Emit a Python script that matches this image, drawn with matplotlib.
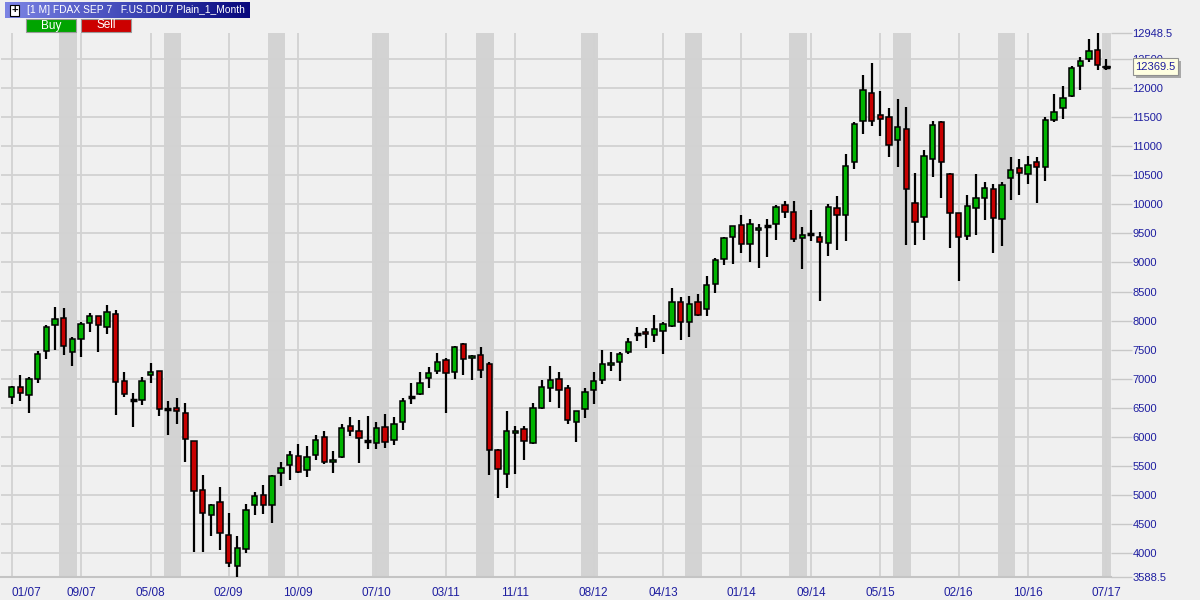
import numpy as np
import matplotlib
matplotlib.use("Agg")
import matplotlib.pyplot as plt
import matplotlib.transforms as mtransforms
from matplotlib.patches import Rectangle
from matplotlib.colors import LinearSegmentedColormap

plt.rcParams['font.family'] = ['Liberation Sans', 'DejaVu Sans']

# monthly OHLC, Jan 2007 .. Jul 2017
opens = [6690, 6851, 6713, 6989, 7471, 7920, 8040, 7454, 7690, 7954, 8075, 7885,
         8109, 6954, 6627, 6627, 7057, 7126, 6483, 6489, 6402, 5931, 5086, 4655,
         4879, 4310, 3770, 4069, 4828, 5000, 4828, 5379, 5517, 5672, 5431, 5690,
         6000, 5569, 5655, 6190, 6104, 5925, 5897, 6172, 5948, 6259, 6678, 6741,
         7017, 7138, 7328, 7121, 7603, 7362, 7414, 7260, 5782, 5368, 6063, 6127,
         5902, 6489, 6833, 6989, 6833, 6264, 6471, 6799, 6971, 7230, 7282, 7454,
         7770, 7799, 7747, 7816, 7902, 8316, 7971, 8328, 8207, 8638, 9052, 9431,
         9638, 9310, 9552, 9632, 9655, 9983, 9862, 9414, 9483, 9431, 9328, 9931,
         9810, 10724, 11431, 11914, 11534, 11500, 11103, 11293, 10017, 9776, 10776, 11414,
         10517, 9845, 9448, 9931, 10103, 10259, 9741, 10448, 10621, 10517, 10724, 10638,
         11448, 11655, 11862, 12379, 12500, 12655, 12369.5]
highs = [6874, 7058, 7023, 7477, 7925, 8236, 8218, 7718, 7977, 8138, 8080, 8270,
         8184, 7115, 6753, 7029, 7264, 7130, 6615, 6667, 6575, 5935, 5351, 4851,
         5144, 4695, 4299, 4851, 5058, 5178, 5340, 5575, 5764, 5885, 5845, 6040,
         6092, 5764, 6213, 6345, 6282, 6362, 6264, 6385, 6345, 6672, 6920, 7109,
         7195, 7448, 7362, 7560, 7621, 7414, 7552, 7290, 5799, 6437, 6190, 6178,
         6575, 6977, 7218, 7115, 6885, 6445, 6833, 7115, 7494, 7460, 7454, 7695,
         7885, 7868, 8092, 7971, 8557, 8402, 8420, 8466, 8776, 9069, 9443, 9630,
         9816, 9747, 9655, 9741, 9983, 10052, 10052, 9603, 9897, 9517, 10000, 10144,
         10868, 11420, 12230, 12437, 11948, 11655, 11810, 11672, 10534, 10931, 11431, 11431,
         10534, 9850, 10155, 10517, 10379, 10351, 10379, 10816, 10776, 10828, 10810, 11500,
         11897, 12034, 12379, 12534, 12845, 12948.5, 12500]
lows = [6563, 6621, 6414, 6931, 7333, 7500, 7414, 7224, 7379, 7810, 7466, 7776,
        6379, 6690, 6172, 6552, 6931, 6362, 6035, 6224, 5569, 4012, 4012, 4287,
        4058, 3753, 3588.5, 3994, 4649, 4667, 4512, 5149, 5253, 5379, 5305, 5598,
        5529, 5379, 5632, 6023, 5546, 5787, 5787, 5805, 5856, 6115, 6563, 6718,
        6839, 7080, 6414, 6994, 7069, 6983, 7011, 5350, 4954, 5127, 5368, 5609,
        5885, 6471, 6604, 6500, 6213, 5914, 6316, 6558, 6902, 7127, 6954, 7420,
        7644, 7535, 7626, 7420, 7885, 7661, 7724, 8080, 8080, 8477, 8960, 8977,
        9167, 9012, 8908, 9098, 9391, 9759, 9356, 8891, 9374, 8339, 9115, 9218,
        9374, 10603, 11207, 11356, 11184, 10810, 10649, 9305, 9305, 9391, 10477, 10115,
        9253, 8690, 9391, 9466, 9736, 9155, 9287, 10080, 10167, 10345, 10017, 10397,
        11414, 11466, 11845, 11966, 12448, 12310, 12310]
closes = [6851, 6747, 6989, 7420, 7885, 8023, 7557, 7678, 7937, 8075, 7920, 8144,
          6937, 6730, 6627, 6954, 7109, 6471, 6483, 6437, 5971, 5069, 4690, 4828,
          4345, 3828, 4086, 4741, 4983, 4828, 5328, 5466, 5690, 5397, 5655, 5948,
          5569, 5603, 6155, 6104, 5983, 5925, 6155, 5914, 6224, 6621, 6678, 6931,
          7103, 7293, 7103, 7552, 7345, 7397, 7155, 5780, 5454, 6109, 6109, 5920,
          6489, 6851, 6971, 6799, 6282, 6437, 6764, 6954, 7247, 7264, 7420, 7626,
          7770, 7764, 7851, 7937, 8316, 7971, 8282, 8103, 8621, 9035, 9414, 9621,
          9310, 9655, 9586, 9632, 9948, 9862, 9397, 9466, 9483, 9345, 9948, 9810,
          10655, 11379, 11966, 11431, 11466, 11017, 11328, 10259, 9690, 10828, 11362, 10724,
          9845, 9431, 9966, 10103, 10276, 9759, 10328, 10586, 10534, 10672, 10638, 11448,
          11586, 11828, 12345, 12466, 12638, 12397, 12369.5]

month_labels = ['01/07', '09/07', '05/08', '02/09', '10/09', '07/10', '03/11', '11/11',
                '08/12', '04/13', '01/14', '09/14', '05/15', '02/16', '10/16', '07/17']
label_idx = [0, 8, 16, 25, 33, 42, 50, 58, 67, 75, 84, 92, 100, 109, 117, 126]
price_ticks = [3588.5, 4000, 4500, 5000, 5500, 6000, 6500, 7000, 7500, 8000, 8500,
               9000, 9500, 10000, 10500, 11000, 11500, 12000, 12500, 12948.5]
last_price = 12369.5

BG = '#F0F0F0'
GRID = '#D2D2D2'
TXT = '#1E1EA0'

fig = plt.figure(figsize=(12, 6), dpi=100)
fig.patch.set_facecolor(BG)
ax = fig.add_axes([1 / 1200, 23 / 600, 1110 / 1200, 544 / 600])
ax.set_facecolor(BG)

n = len(opens)
ax.set_xlim(-1.21, 126.54)
ax.set_ylim(3588.5, 12948.5)

# summer shading
for k in range(11):
    ax.axvspan(5.5 + 12 * k, 7.5 + 12 * k, color='#D3D3D3', zorder=0, lw=0)

for p in price_ticks[1:-1]:
    ax.axhline(p, color=GRID, lw=1.3, zorder=1)
for i in label_idx:
    ax.axvline(i, color=GRID, lw=1.3, zorder=1)

w = 0.62
for i in range(n):
    o, h, l, c = opens[i], highs[i], lows[i], closes[i]
    ax.vlines(i, l, h, color='black', lw=1.6, zorder=3)
    if o == c:
        ax.hlines(o, i - w / 2 - 0.1, i + w / 2 + 0.1, color='black', lw=2.5, zorder=4)
        continue
    col = '#00B400' if c > o else '#C80000'
    ax.add_patch(Rectangle((i - w / 2, min(o, c)), w, abs(c - o), facecolor=col,
                           edgecolor='black', lw=1.1, zorder=4))

for s in ['top', 'left', 'right']:
    ax.spines[s].set_visible(False)
ax.spines['bottom'].set_color('#C4C4C4')
ax.spines['bottom'].set_linewidth(1.5)

ax.set_xticks(label_idx)
ax.set_xticklabels(month_labels, color=TXT, fontsize=8.5)
ax.get_xticklabels()[0].set_ha('left')
ax.tick_params(axis='x', length=0, pad=7)

ax.yaxis.tick_right()
ax.set_yticks(price_ticks)
ax.set_yticklabels([('%.1f' % p) if p % 1 else '%d' % p for p in price_ticks],
                   color=TXT, fontsize=8)
ax.tick_params(axis='y', length=15, width=1, color='#C8C8C8', pad=0.5)

# last price tag (box drawn as patches, shadow first)
trans = mtransforms.blended_transform_factory(ax.transAxes, ax.transData)
ax.add_patch(Rectangle((1.0225, 12172), 0.0405, 292, transform=trans, fc='#A8A8A8',
                       ec='none', clip_on=False, zorder=9))
ax.add_patch(Rectangle((1.0198, 12224), 0.0405, 292, transform=trans, fc='#FFFFE1',
                       ec='#909090', lw=0.8, clip_on=False, zorder=10))
ax.text(1.0218, last_price, '12369.5', transform=trans, fontsize=8, color=TXT,
        va='center', ha='left', clip_on=False, zorder=11)
ax.plot([n - 1.4, n - 0.6], [last_price, last_price], color='black', lw=1.2, zorder=5)

# header bar
hax = fig.add_axes([5 / 1200, 582 / 600, 245 / 1200, 16 / 600])
cmap = LinearSegmentedColormap.from_list('hdr', ['#7C84E4', '#4048B8', '#08087C'])
hax.imshow(np.linspace(0, 1, 256)[None, :], aspect='auto', cmap=cmap, extent=[0, 1, 0, 1])
hax.set_axis_off()
fig.text(27 / 1200, 590 / 600, '[1 M] FDAX SEP 7   F.US.DDU7 Plain_1_Month', color='white',
         fontsize=7.4, va='center', ha='left')
fig.patches.append(Rectangle((10 / 1200, 584 / 600), 9 / 1200, 11 / 600, transform=fig.transFigure,
                             fc='white', ec='black', lw=0.8))
fig.text(14.5 / 1200, 589.5 / 600, '+', color='black', fontsize=8, fontweight='bold',
         va='center', ha='center')

for x0, col, lab in [(26, '#00A400', 'Buy'), (81, '#CC0000', 'Sell')]:
    fig.patches.append(Rectangle((x0 / 1200, 568 / 600), 50 / 1200, 13 / 600,
                                 transform=fig.transFigure, fc=col, ec='#9A9A9A', lw=0.8))
    fig.text((x0 + 25) / 1200, 574.5 / 600, lab, color='white', fontsize=8.5,
             va='center', ha='center')

fig.savefig('out.png', dpi=100, facecolor=BG)
